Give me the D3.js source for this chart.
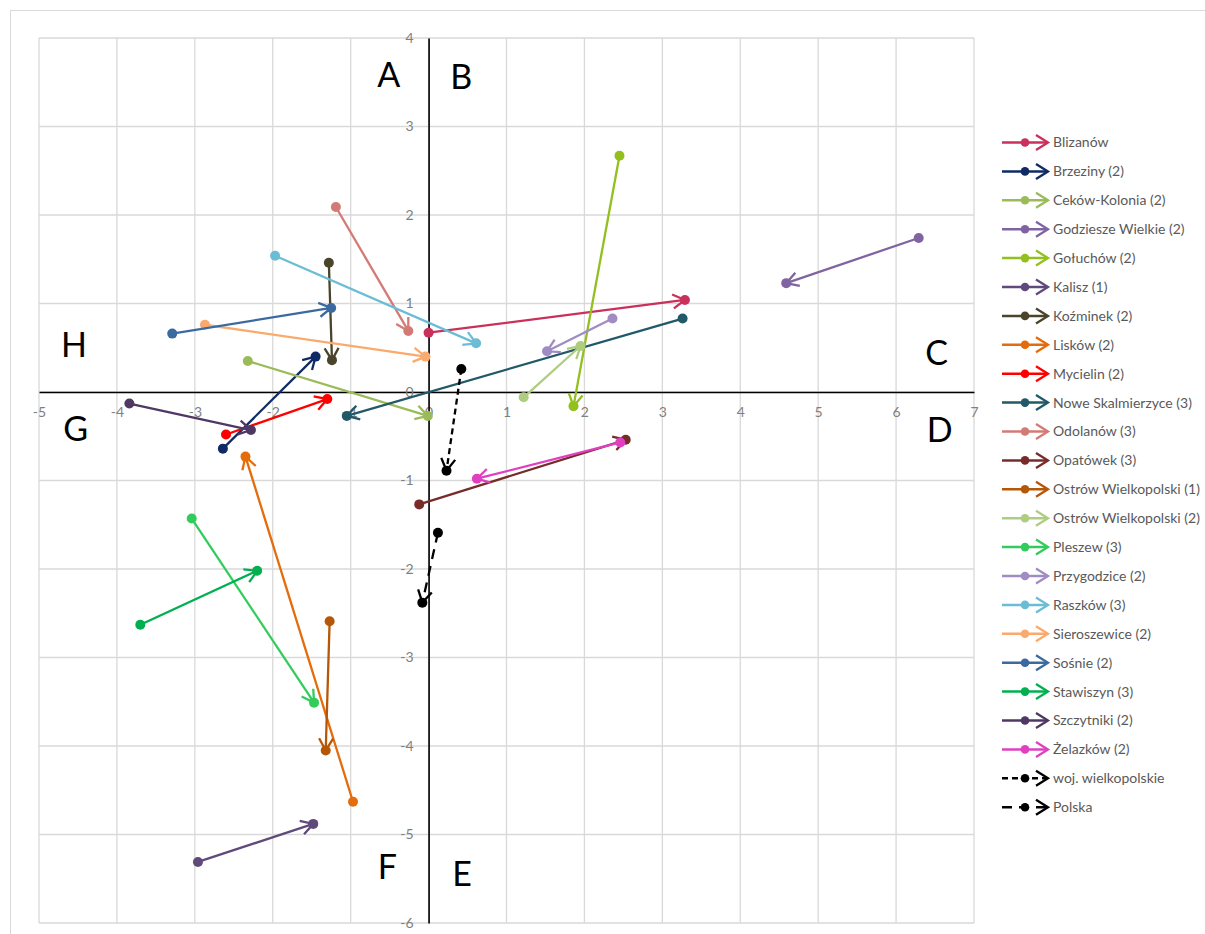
<!DOCTYPE html>
<html>
<head>
<meta charset="utf-8">
<script src="https://cdn.jsdelivr.net/npm/d3@7"></script>
<style>
  html, body { margin: 0; padding: 0; background: #fff; }
  svg { display: block; font-family: Lato, "Open Sans", "Liberation Sans", sans-serif; }
</style>
</head>
<body>
<svg id="chart" width="1205" height="934"></svg>
<script>
// ---- data ----
const names = ["Blizanów","Brzeziny (2)","Ceków-Kolonia (2)","Godziesze Wielkie (2)","Gołuchów (2)",
  "Kalisz (1)","Koźminek (2)","Lisków (2)","Mycielin (2)","Nowe Skalmierzyce (3)","Odolanów (3)",
  "Opatówek (3)","Ostrów Wielkopolski (1)","Ostrów Wielkopolski (2)","Pleszew (3)","Przygodzice (2)",
  "Raszków (3)","Sieroszewice (2)","Sośnie (2)","Stawiszyn (3)","Szczytniki (2)","Żelazków (2)",
  "woj. wielkopolskie","Polska"];
const startX = [0.00,-2.64,-2.32,6.29,2.45,-2.96,-1.28,-0.97,-2.60,3.26,-1.19,-0.12,-1.27,1.22,-3.04,2.36,-1.97,-2.87,-3.29,-3.70,-3.84,2.46,0.42,0.12];
const startY = [0.67,-0.64,0.35,1.74,2.67,-5.31,1.46,-4.63,-0.48,0.83,2.09,-1.27,-2.59,-0.06,-1.43,0.83,1.54,0.76,0.66,-2.63,-0.13,-0.57,0.26,-1.59];
const endX   = [3.29,-1.45,-0.01,4.59,1.86,-1.48,-1.24,-2.35,-1.30,-1.05,-0.26,2.53,-1.32,1.95,-1.47,1.52,0.61,-0.04,-1.25,-2.20,-2.28,0.62,0.23,-0.08];
const endY   = [1.04,0.40,-0.27,1.23,-0.16,-4.88,0.36,-0.73,-0.08,-0.27,0.69,-0.54,-4.05,0.52,-3.51,0.46,0.55,0.40,0.95,-2.02,-0.43,-0.98,-0.89,-2.38];
const xTicks = [-5,-4,-3,-2,-1,0,1,2,3,4,5,6,7];
const yTicks = [4,3,2,1,0,-1,-2,-3,-4,-5,-6];
const quadLabels = ["A","B","C","D","E","F","G","H"];
const quadX = [-0.51,0.42,6.52,6.56,0.43,-0.53,-4.53,-4.55];
const quadY = [3.45,3.42,0.31,-0.565,-5.58,-5.5,-0.557,0.40];

// ---- styles ----
const colors = ["#C9305B","#0F2A64","#9BBB59","#8064A2","#92C01F","#604A7B","#4A452A","#E46C0A",
  "#FF0000","#215968","#D47A76","#772C2A","#B65708","#AFCD80","#33CC5C","#A08CC3","#6BBDD5",
  "#FAAA6C","#3B6AA0","#00B050","#4F3864","#E040C0","#000000","#000000"];
const dashes = names.map((n,i) => i === 22 ? "6,4" : (i === 23 ? "10,7" : null));

const svg = d3.select("#chart");
const x = d3.scaleLinear().domain([-5,7]).range([39,974]);
const y = d3.scaleLinear().domain([-6,4]).range([923,38]);

// outer chart border
svg.append("rect").attr("x",10.5).attr("y",10.5).attr("width",1200).attr("height",930)
  .attr("fill","none").attr("stroke","#D9D9D9").attr("stroke-width",1);

// gridlines
const grid = svg.append("g");
grid.selectAll("line.v").data(xTicks).join("line")
  .attr("x1",d=>x(d)).attr("x2",d=>x(d)).attr("y1",y(4)).attr("y2",y(-6))
  .attr("stroke","#D9D9D9").attr("stroke-width",1.3);
grid.selectAll("line.h").data(yTicks).join("line")
  .attr("y1",d=>y(d)).attr("y2",d=>y(d)).attr("x1",x(-5)).attr("x2",x(7))
  .attr("stroke","#D9D9D9").attr("stroke-width",1.3);

// axes
const xAxis = svg.append("g").attr("transform",`translate(0,${y(0)})`)
  .call(d3.axisBottom(x).tickValues(xTicks).tickSize(0).tickPadding(15).tickFormat(d=>String(d)));
const yAxis = svg.append("g").attr("transform",`translate(${x(0)},0)`)
  .call(d3.axisLeft(y).tickValues(yTicks).tickSize(0).tickPadding(15).tickFormat(d=>String(d)));
[xAxis,yAxis].forEach(a => {
  a.select(".domain").attr("stroke","#000").attr("stroke-width",1.6);
  a.selectAll("text").attr("fill","#7F7F7F").attr("font-size",14)
    .attr("font-family","Lato, 'Open Sans', sans-serif");
});

// quadrant letters
svg.append("g").selectAll("text").data(quadLabels).join("text")
  .attr("x",(d,i)=>x(quadX[i])).attr("y",(d,i)=>y(quadY[i]))
  .attr("text-anchor","middle").attr("font-size",34).attr("fill","#000").text(d=>d);

// arrows
function arrowHead(px,py,dx,dy,L,W){
  const len = Math.hypot(dx,dy) || 1;
  const ux = dx/len, uy = dy/len, nx = -uy, ny = ux;
  return [[px - L*ux + W*nx, py - L*uy + W*ny],[px,py],[px - L*ux - W*nx, py - L*uy - W*ny]];
}
const plot = svg.append("g");
names.forEach((n,i) => {
  const g = plot.append("g");
  const x1 = x(startX[i]), y1 = y(startY[i]), x2 = x(endX[i]), y2 = y(endY[i]);
  g.append("line").attr("x1",x1).attr("y1",y1).attr("x2",x2).attr("y2",y2)
    .attr("stroke",colors[i]).attr("stroke-width",2.3)
    .attr("stroke-dasharray",dashes[i]);
  g.append("circle").attr("cx",x1).attr("cy",y1).attr("r",5).attr("fill",colors[i]);
  g.append("circle").attr("cx",x2).attr("cy",y2).attr("r",5).attr("fill",colors[i]);
  g.append("path").attr("d",d3.line()(arrowHead(x2,y2,x2-x1,y2-y1,12,7)))
    .attr("fill","none").attr("stroke",colors[i]).attr("stroke-width",2.3);
});

// legend
const legend = svg.append("g");
names.forEach((n,i) => {
  const cy = 142.5 + i*28.9;
  const g = legend.append("g");
  g.append("line").attr("x1",1002).attr("x2",1047).attr("y1",cy).attr("y2",cy)
    .attr("stroke",colors[i]).attr("stroke-width",2.5).attr("stroke-dasharray",dashes[i]);
  g.append("circle").attr("cx",1025).attr("cy",cy).attr("r",4.3).attr("fill",colors[i]);
  g.append("path").attr("d",d3.line()(arrowHead(1048,cy,1,0,12,7.5)))
    .attr("fill","none").attr("stroke",colors[i]).attr("stroke-width",2.3);
  g.append("text").attr("x",1053).attr("y",cy).attr("dy","0.35em")
    .attr("font-size",14).attr("fill","#595959").text(n);
});
</script>
</body>
</html>
